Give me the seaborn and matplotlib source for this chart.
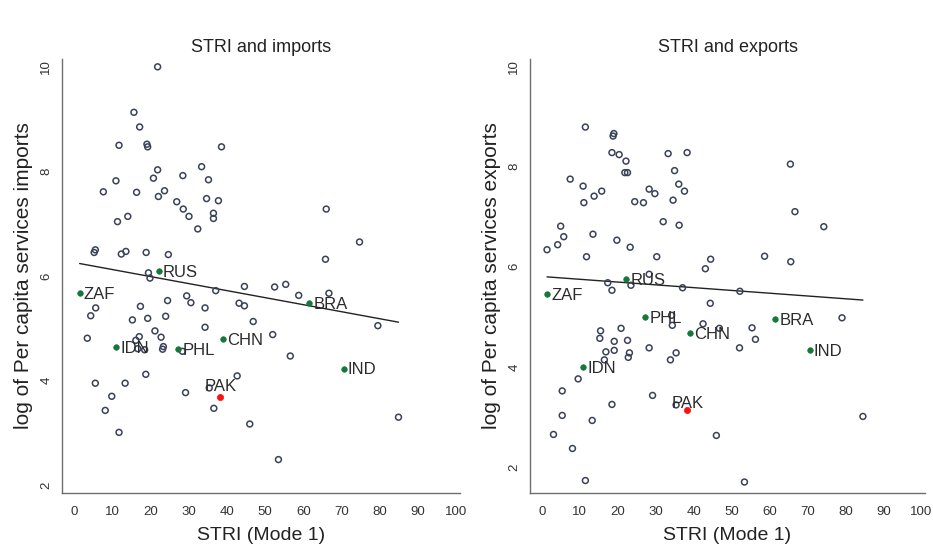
import numpy as np
import pandas as pd
import matplotlib
matplotlib.use("Agg")
import matplotlib.pyplot as plt
import seaborn as sns

# unlabelled countries, imports panel (STRI, log per capita imports)
imp_stri = [21.9, 15.7, 17.2, 11.8, 19.1, 19.3, 38.6, 21.9, 33.4, 20.8, 28.5, 11.0, 35.2,
            7.7, 16.4, 22.1, 23.7, 26.9, 28.6, 34.7, 37.8, 30.1, 36.5, 36.5, 14.1, 11.4,
            32.4, 5.6, 5.3, 12.4, 13.6, 18.9, 24.7, 66.0, 74.7, 65.8, 19.5, 19.9, 44.6,
            37.1, 29.5, 30.6, 24.5, 17.4, 5.7, 34.3, 43.2, 44.6, 4.4, 15.3, 19.3, 24.0,
            46.9, 34.3, 21.2, 22.8, 3.5, 17.1, 16.2, 16.7, 18.5, 23.2, 23.4, 28.4, 18.8,
            5.6, 13.4, 42.7, 29.2, 9.9, 8.2, 36.6, 46.0, 11.8, 52.5, 55.4, 58.8, 66.7,
            79.5, 52.0, 56.6, 84.9, 53.5]
imp_val = [10.0, 9.13, 8.85, 8.50, 8.52, 8.47, 8.47, 8.03, 8.09, 7.87, 7.92, 7.82, 7.84,
           7.61, 7.60, 7.52, 7.63, 7.42, 7.28, 7.48, 7.44, 7.14, 7.10, 7.20, 7.14, 7.04,
           6.90, 6.50, 6.45, 6.42, 6.47, 6.45, 6.41, 7.28, 6.65, 6.32, 6.06, 5.96, 5.80,
           5.72, 5.62, 5.49, 5.53, 5.42, 5.39, 5.39, 5.48, 5.43, 5.24, 5.16, 5.19, 5.23,
           5.13, 5.02, 4.95, 4.83, 4.81, 4.84, 4.77, 4.61, 4.59, 4.60, 4.65, 4.56, 4.12,
           3.95, 3.95, 4.09, 3.77, 3.70, 3.43, 3.47, 3.17, 3.01, 5.79, 5.84, 5.63, 5.67,
           5.05, 4.88, 4.47, 3.30, 2.49]

# unlabelled countries, exports panel
exp_stri = [11.5, 18.8, 19.0, 18.5, 20.4, 22.2, 33.3, 38.3, 21.9, 22.6, 35.0, 7.5, 10.9,
            15.8, 13.8, 11.1, 28.3, 29.8, 36.1, 37.6, 34.6, 24.5, 26.8, 32.0, 36.2, 5.0,
            5.8, 13.5, 4.2, 1.4, 19.8, 23.3, 11.8, 30.3, 44.5, 43.1, 65.5, 66.7, 74.3,
            58.7, 65.6, 17.4, 18.5, 23.5, 28.3, 37.1, 44.4, 34.2, 34.4, 42.5, 46.8, 20.9,
            15.5, 15.3, 19.1, 22.6, 19.1, 16.9, 23.1, 22.8, 28.3, 35.4, 33.9, 16.5, 9.6,
            5.4, 29.2, 18.5, 5.4, 13.3, 3.1, 46.0, 8.1, 11.5, 52.2, 79.1, 55.4, 56.3,
            52.1, 84.6, 53.4]
exp_val = [8.79, 8.61, 8.66, 8.28, 8.24, 8.11, 8.26, 8.28, 7.88, 7.88, 7.92, 7.75, 7.61,
           7.51, 7.41, 7.28, 7.55, 7.46, 7.65, 7.51, 7.33, 7.30, 7.28, 6.90, 6.83, 6.81,
           6.60, 6.65, 6.44, 6.34, 6.53, 6.39, 6.20, 6.20, 6.15, 5.96, 8.05, 7.10, 6.80,
           6.21, 6.10, 5.68, 5.53, 5.63, 5.85, 5.58, 5.27, 5.03, 4.83, 4.86, 4.77, 4.77,
           4.72, 4.57, 4.51, 4.53, 4.33, 4.30, 4.28, 4.19, 4.38, 4.28, 4.14, 4.14, 3.76,
           3.52, 3.43, 3.25, 3.03, 2.93, 2.65, 2.63, 2.37, 1.73, 5.51, 4.98, 4.78, 4.55,
           4.38, 3.01, 1.70]

# labelled countries
lab_names = ["ZAF", "IDN", "RUS", "PHL", "CHN", "BRA", "IND"]
lab_stri = [1.5, 11.0, 22.2, 27.3, 39.0, 61.5, 70.6]
lab_imp = [5.68, 4.64, 6.09, 4.61, 4.80, 5.49, 4.23]
lab_exp = [5.46, 4.00, 5.76, 5.00, 4.68, 4.95, 4.33]

# Pakistan: observed point and highlighted point
pak_stri = 35.4
pak_imp, pak_exp = 3.86, 3.24
pak_red_stri = 38.3
pak_red_imp, pak_red_exp = 3.68, 3.14

x_ticks = list(range(0, 101, 10))
y_ticks = [2, 4, 6, 8, 10]

sns.set_theme(style="white")
plt.rcParams['font.family'] = ['Liberation Sans', 'DejaVu Sans']

fig = plt.figure(figsize=(9.33, 5.46), dpi=100)
ax1 = fig.add_axes([0.0665, 0.097, 0.4266, 0.795])
ax2 = fig.add_axes([0.568, 0.097, 0.4236, 0.795])

hollow = '#3a4258'
green = '#17773a'
axis_col = '#6e6e6e'

panels = [
    (ax1, imp_stri, imp_val, lab_imp, pak_imp, pak_red_imp, "STRI and imports",
     "log of Per capita services imports", (1.85, 10.15)),
    (ax2, exp_stri, exp_val, lab_exp, pak_exp, pak_red_exp, "STRI and exports",
     "log of Per capita services exports", (1.48, 10.15)),
]

for ax, xs, ys, lab_y, pk, pk_red, title, ylabel, ylim in panels:
    df = pd.DataFrame({'stri': xs + lab_stri + [pak_stri, pak_red_stri],
                       'val': ys + lab_y + [pk, pk_red]})
    sns.regplot(data=df, x='stri', y='val', scatter=False, ci=None, truncate=True,
                ax=ax, line_kws=dict(color='#222222', lw=1.0))
    sns.scatterplot(x=xs + [pak_stri], y=ys + [pk], ax=ax, s=18, facecolor='none',
                    edgecolor=hollow, linewidth=1.1, zorder=3)
    sns.scatterplot(x=lab_stri, y=lab_y, ax=ax, s=16, color=green, edgecolor=green,
                    linewidth=0.5, zorder=4)
    sns.scatterplot(x=[pak_red_stri], y=[pk_red], ax=ax, s=20, color='#ff1010',
                    edgecolor='#ff1010', linewidth=0.5, zorder=4)
    for name, x, y in zip(lab_names, lab_stri, lab_y):
        ax.annotate(name, (x, y), xytext=(3, -1), textcoords='offset points',
                    va='center', ha='left', fontsize=12, color='#2b2b2b', zorder=5)
    ax.annotate("PAK", (pak_stri, pk), xytext=(-3, 1), textcoords='offset points',
                va='center', ha='left', fontsize=12, color='#2b2b2b', zorder=5)

    ax.set_xlim(-3.1, 101)
    ax.set_ylim(*ylim)
    ax.set_xticks(x_ticks)
    ax.set_yticks(y_ticks)
    ax.tick_params(axis='both', length=4, width=0.8, color=axis_col, labelsize=9.5,
                   labelcolor='#333333', pad=3, direction='out')
    ax.tick_params(axis='x', pad=5)
    ax.tick_params(axis='y', labelrotation=90)
    for lbl in ax.get_yticklabels():
        lbl.set_va('center')
    ax.set_title(title, fontsize=13, color='#222222', pad=5)
    ax.set_xlabel("STRI (Mode 1)", fontsize=14, color='#222222', labelpad=7)
    ax.set_ylabel(ylabel, fontsize=15, color='#222222', labelpad=5)
    sns.despine(ax=ax)
    for sp in ['left', 'bottom']:
        ax.spines[sp].set_color(axis_col)
        ax.spines[sp].set_linewidth(1.0)

fig.savefig("out.png", dpi=100, facecolor='white')
